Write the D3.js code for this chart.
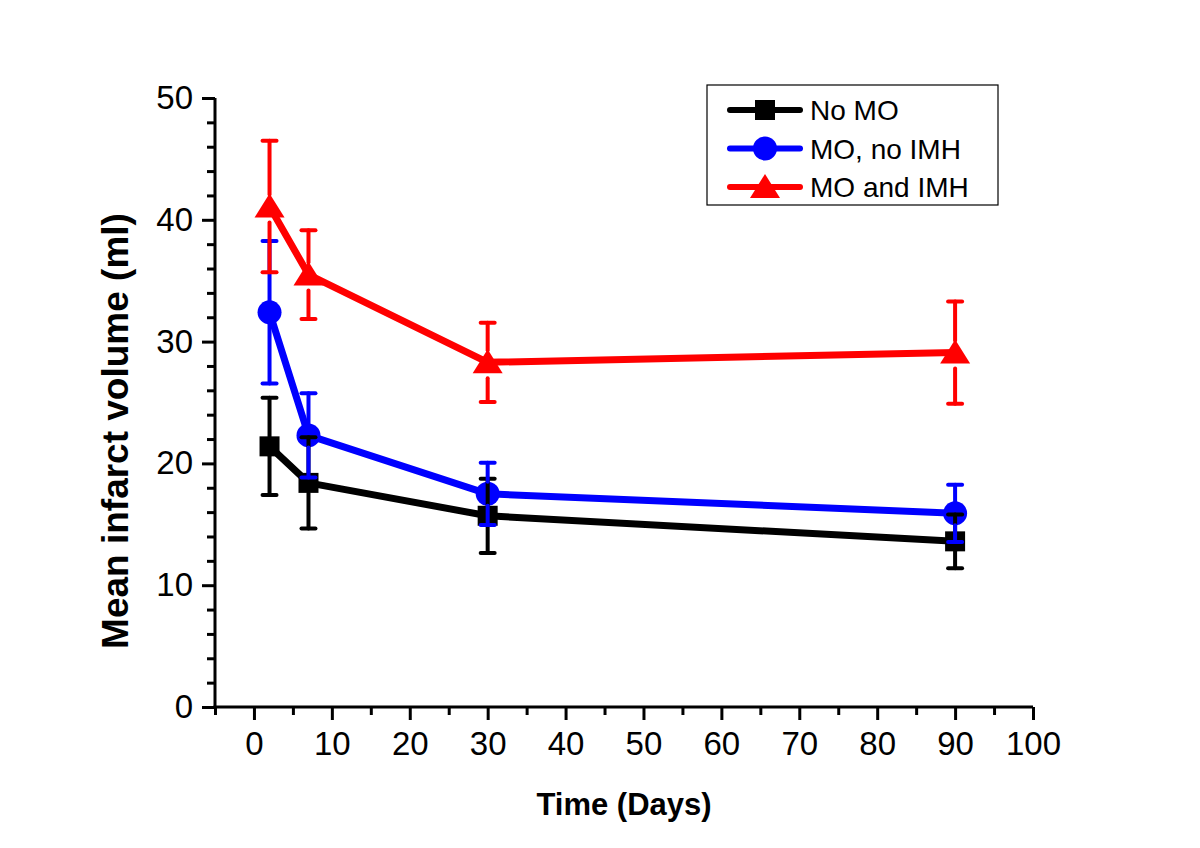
<!DOCTYPE html>
<html>
<head>
<meta charset="utf-8">
<script src="https://cdn.jsdelivr.net/npm/d3@7"></script>
<style>
  html, body { margin: 0; padding: 0; background: #fff; }
  svg { display: block; font-family: Arial, "Liberation Sans", sans-serif; }
</style>
</head>
<body>
<svg id="chart" width="1200" height="848"></svg>
<script>
// ---- data ----
const days = [2, 7, 30, 90];
const seriesNames = ["No MO", "MO, no IMH", "MO and IMH"];
const noMO = [21.4, 18.4, 15.7, 13.6];
const noMOErr = [4.0, 3.75, 3.05, 2.2];
const moNoIMH = [32.4, 22.3, 17.5, 15.9];
const moNoIMHErr = [5.85, 3.45, 2.55, 2.35];
const moIMH = [41.1, 35.5, 28.3, 29.1];
const moIMHErr = [5.4, 3.65, 3.25, 4.2];
const xTicks = [0, 10, 20, 30, 40, 50, 60, 70, 80, 90, 100];
const yTicks = [0, 10, 20, 30, 40, 50];
const xTitle = "Time (Days)";
const yTitle = "Mean infarct volume (ml)";

const colors = ["#000000", "#0000ff", "#ff0000"];
const shapes = ["square", "circle", "triangle"];

const svg = d3.select("#chart");
const x = d3.scaleLinear().domain([-5, 100]).range([215, 1033]);
const y = d3.scaleLinear().domain([0, 50]).range([707, 98]);

// ---- axes ----
const xMinor = d3.range(-5, 100, 10);
const yMinor = d3.range(0, 50, 2).filter(v => v % 10 !== 0);

function styleAxis(g) {
  g.select(".domain").attr("stroke", "#000").attr("stroke-width", 3);
  g.selectAll(".tick line").attr("stroke", "#000").attr("stroke-width", 3);
}

const gxMinor = svg.append("g").attr("transform", `translate(0,${y(0)})`)
  .call(d3.axisBottom(x).tickValues(xMinor).tickSize(8).tickSizeOuter(0).tickFormat(""));
gxMinor.select(".domain").remove();
gxMinor.selectAll(".tick line").attr("stroke", "#000").attr("stroke-width", 3);

const gyMinor = svg.append("g").attr("transform", `translate(${x(-5)},0)`)
  .call(d3.axisLeft(y).tickValues(yMinor).tickSize(8).tickSizeOuter(0).tickFormat(""));
gyMinor.select(".domain").remove();
gyMinor.selectAll(".tick line").attr("stroke", "#000").attr("stroke-width", 3);

const gx = svg.append("g").attr("transform", `translate(0,${y(0)})`)
  .call(d3.axisBottom(x).tickValues(xTicks).tickSize(13).tickSizeOuter(0).tickPadding(12));
styleAxis(gx);
gx.selectAll(".tick text").attr("font-size", 33).attr("fill", "#000")
  .attr("font-family", "Arial, 'Liberation Sans', sans-serif");

const gy = svg.append("g").attr("transform", `translate(${x(-5)},0)`)
  .call(d3.axisLeft(y).tickValues(yTicks).tickSize(13).tickSizeOuter(0).tickPadding(9));
styleAxis(gy);
gy.selectAll(".tick text").attr("font-size", 33).attr("fill", "#000")
  .attr("font-family", "Arial, 'Liberation Sans', sans-serif");

// extend domains so the corner is square
gx.select(".domain").attr("d", `M${x(-5) - 1.5},0H${x(100)}`);
gy.select(".domain").attr("d", `M0,${y(50)}V${y(0) + 1.5}`);

// ---- titles ----
svg.append("text").attr("x", 624).attr("y", 815).attr("text-anchor", "middle")
  .attr("font-weight", "bold").attr("font-size", 31).text(xTitle);
svg.append("text").attr("transform", `translate(128,431) rotate(-90)`)
  .attr("text-anchor", "middle").attr("font-weight", "bold").attr("font-size", 37).text(yTitle);

// ---- markers ----
function markerPath(shape) {
  if (shape === "square") return "M-10,-10H10V10H-10Z";
  if (shape === "circle") return d3.symbol(d3.symbolCircle, 452)();
  return "M0,-13L15,11H-15Z";
}

const allSeries = [
  { name: seriesNames[0], vals: noMO, err: noMOErr },
  { name: seriesNames[1], vals: moNoIMH, err: moNoIMHErr },
  { name: seriesNames[2], vals: moIMH, err: moIMHErr }
];

const line = d3.line().x(d => x(d.x)).y(d => y(d.y));

allSeries.forEach((s, i) => {
  const pts = days.map((d, j) => ({ x: d, y: s.vals[j] }));
  const g = svg.append("g");
  g.append("path").attr("d", line(pts)).attr("fill", "none")
    .attr("stroke", colors[i]).attr("stroke-width", 7).attr("stroke-linejoin", "round");
  g.selectAll("path.m").data(pts).join("path").attr("class", "m")
    .attr("transform", d => `translate(${x(d.x)},${y(d.y)})`)
    .attr("d", markerPath(shapes[i])).attr("fill", colors[i]);
});

// ---- error bars (drawn on top) ----
const gapFor = [10, 12, 12];
allSeries.forEach((s, i) => {
  const g = svg.append("g").attr("stroke", colors[i]).attr("stroke-width", 4).attr("stroke-linecap", "round");
  days.forEach((d, j) => {
    const cx = x(d), cy = y(s.vals[j]);
    const top = y(s.vals[j] + s.err[j]), bot = y(s.vals[j] - s.err[j]);
    const gap = gapFor[i];
    g.append("line").attr("x1", cx).attr("x2", cx).attr("y1", top).attr("y2", cy - gap);
    g.append("line").attr("x1", cx).attr("x2", cx).attr("y1", cy + gap + (i === 2 ? 4 : 0)).attr("y2", bot);
    g.append("line").attr("x1", cx - 7).attr("x2", cx + 7).attr("y1", top).attr("y2", top);
    g.append("line").attr("x1", cx - 7).attr("x2", cx + 7).attr("y1", bot).attr("y2", bot);
  });
});

// ---- legend ----
const lg = svg.append("g");
lg.append("rect").attr("x", 707).attr("y", 85).attr("width", 291).attr("height", 120)
  .attr("fill", "#fff").attr("stroke", "#000").attr("stroke-width", 1.2);
allSeries.forEach((s, i) => {
  const ry = 110 + i * 38.5;
  lg.append("line").attr("x1", 730).attr("x2", 800).attr("y1", ry).attr("y2", ry)
    .attr("stroke", colors[i]).attr("stroke-width", 6).attr("stroke-linecap", "round");
  lg.append("path").attr("transform", `translate(765,${ry})`).attr("d", markerPath(shapes[i])).attr("fill", colors[i]);
  lg.append("text").attr("x", 810).attr("y", ry + 10).attr("font-size", 28).attr("fill", "#000").text(s.name);
});
</script>
</body>
</html>
